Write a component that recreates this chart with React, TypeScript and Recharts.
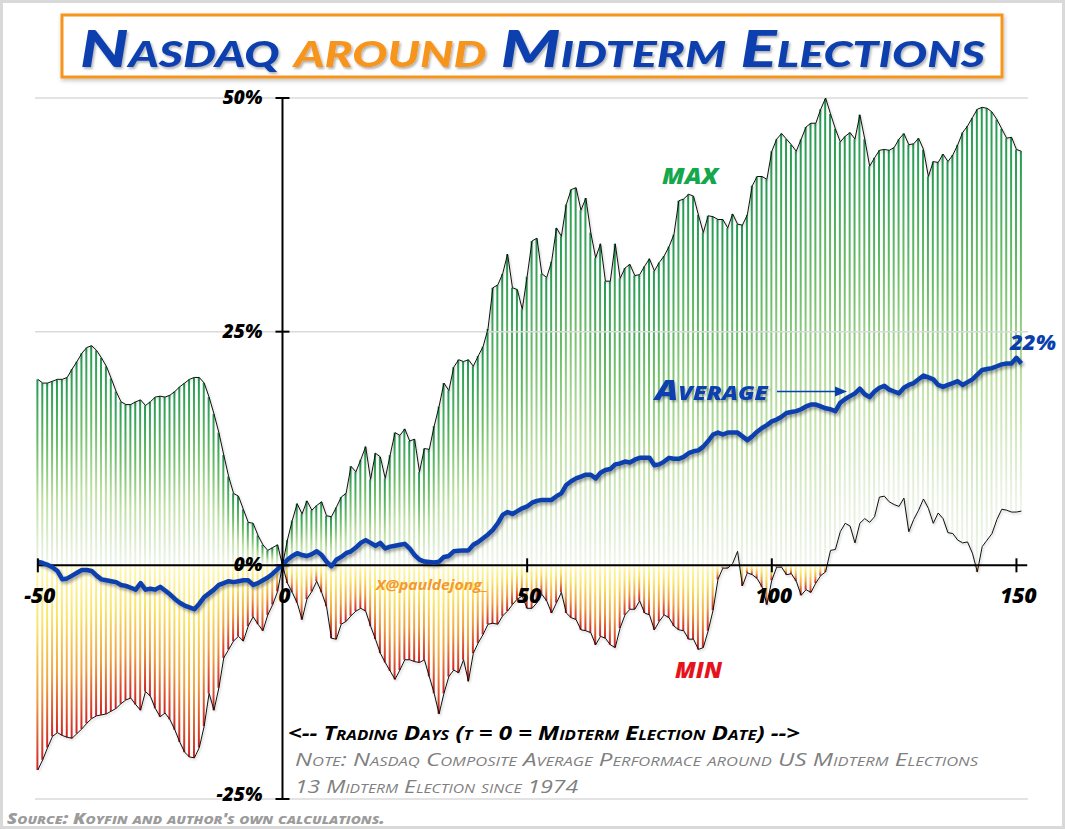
import React from 'react';
import { ComposedChart, Bar, Line, XAxis, YAxis, ReferenceLine, ReferenceDot } from 'recharts';

const W = 1065;
const H = 829;
const FIRST_DAY = -50;

// MAX performance (%) by trading day, t = -50 .. 151
const maxValues: number[] = [
  19.9, 19.5, 19.5, 19.7, 19.9, 19.9, 20.1, 21.0, 21.8, 22.7,
  23.3, 23.5, 23.0, 22.2, 21.3, 20.0, 18.6, 17.5, 17.2, 17.2,
  17.5, 17.7, 17.1, 17.5, 18.0, 18.1, 18.0, 18.2, 18.6, 19.1,
  19.5, 19.9, 20.1, 20.1, 19.5, 18.0, 16.2, 14.2, 11.8, 9.5,
  7.7, 7.4, 6.0, 4.6, 4.5, 3.2, 2.2, 1.6, 1.9, 2.2,
  0, 2.7, 4.8, 6.6, 5.5, 6.9, 5.9, 6.4, 6.8, 5.3,
  5.2, 6.2, 7.3, 7.7, 10.6, 10.0, 11.3, 12.7, 9.2, 12.0,
  11.6, 9.3, 11.8, 14.2, 13.9, 14.6, 13.3, 13.5, 10.0, 12.5,
  12.4, 14.9, 17.0, 19.5, 18.7, 21.2, 22.0, 21.8, 22.0, 21.3,
  22.4, 23.4, 25.3, 29.7, 30.0, 31.2, 33.3, 29.7, 29.5, 27.4,
  30.9, 34.7, 35.0, 31.2, 30.8, 32.5, 36.1, 35.2, 38.6, 40.2,
  40.4, 38.0, 39.3, 35.6, 32.9, 34.4, 30.4, 30.4, 34.4, 30.7,
  31.8, 32.2, 31.0, 31.1, 32.0, 32.8, 31.5, 32.4, 33.1, 34.1,
  35.4, 39.0, 39.2, 39.7, 39.5, 37.5, 35.6, 37.4, 37.3, 37.0,
  37.0, 36.1, 37.6, 36.5, 36.4, 37.5, 40.6, 41.6, 41.6, 41.3,
  44.3, 45.6, 46.2, 45.6, 45.0, 44.3, 45.6, 46.9, 47.3, 47.3,
  48.8, 50.0, 48.3, 46.7, 45.3, 45.9, 46.3, 45.6, 48.2, 45.6,
  42.7, 43.6, 44.4, 44.5, 44.4, 44.7, 45.6, 46.2, 45.0, 45.1,
  45.7, 44.5, 41.6, 43.2, 43.1, 44.0, 43.2, 43.9, 45.0, 46.3,
  47.0, 47.9, 48.8, 49.0, 48.9, 48.5, 47.7, 46.7, 45.7, 45.8,
  44.5, 44.3,
];

// MIN performance (%) by trading day
const minValues: number[] = [
  -21.9, -20.8, -19.5, -18.3, -17.9, -18.2, -18.4, -18.5, -18.0, -17.5,
  -16.9, -16.4, -16.1, -16.0, -15.9, -15.6, -15.3, -14.8, -14.4, -14.2,
  -14.9, -15.5, -13.5, -14.0, -15.3, -16.2, -15.8, -16.5, -17.6, -18.9,
  -20.0, -20.5, -20.6, -19.5, -17.2, -13.7, -15.5, -13.1, -9.9, -9.0,
  -8.1, -7.6, -8.1, -6.5, -5.5, -6.3, -7.0, -5.3, -4.2, -2.8,
  0, -1.9, -2.9, -4.0, -5.8, -3.6, -2.8, -1.7, -2.9, -4.4,
  -7.8, -7.9, -6.3, -6.0, -5.4, -4.9, -4.6, -4.9, -6.5, -7.9,
  -9.4, -10.4, -11.3, -12.2, -11.2, -10.1, -10.1, -10.3, -10.4, -10.1,
  -11.9, -13.7, -15.9, -13.7, -11.9, -11.2, -11.5, -10.1, -12.4, -9.4,
  -8.3, -7.4, -6.3, -6.2, -6.3, -5.4, -4.9, -4.2, -3.6, -3.3,
  -4.6, -4.6, -4.0, -3.1, -3.8, -5.1, -4.0, -2.9, -5.1, -5.6,
  -5.8, -6.9, -7.0, -7.2, -8.5, -7.6, -7.8, -8.5, -8.8, -6.7,
  -5.3, -4.7, -4.7, -3.8, -5.1, -5.3, -6.9, -6.0, -5.3, -5.6,
  -6.5, -6.9, -7.0, -7.9, -7.9, -9.0, -8.8, -7.0, -4.8, -1.5,
  -0.3, -0.3, 0.2, 1.5, -2.2, -0.8, -1.0, -1.4, -2.3, -4.2,
  -1.6, -0.2, -0.2, -1.0, -0.9, -1.7, -3.2, -2.6, -2.9, -1.9,
  -1.1, -0.7, 1.6, 1.7, 3.6, 4.5, 4.2, 2.4, 4.5, 5.0,
  4.6, 5.2, 7.3, 7.4, 6.8, 6.5, 6.3, 7.2, 3.6, 4.9,
  5.9, 7.1, 6.1, 4.5, 5.6, 5.0, 3.5, 3.4, 2.7, 2.4,
  2.5, 1.3, -0.7, 2.0, 2.7, 3.4, 4.9, 6.0, 5.9, 5.7,
  5.7, 5.8,
];

// AVERAGE performance (%) by trading day
const avgValues: number[] = [
  0.4, 0.25, 0.05, -0.2, -0.6, -1.5, -1.4, -1.1, -0.8, -0.5,
  -0.5, -0.6, -1.1, -1.5, -1.6, -1.7, -1.8, -2.1, -2.2, -2.4,
  -2.6, -1.9, -2.6, -2.5, -2.6, -2.3, -2.7, -3.1, -3.6, -4.0,
  -4.3, -4.5, -4.7, -4.1, -3.4, -3.0, -2.6, -2.1, -1.9, -1.7,
  -1.8, -1.7, -1.6, -1.6, -2.1, -1.9, -1.6, -1.3, -0.9, -0.4,
  0, 0.6, 1.0, 1.3, 1.1, 1.0, 1.2, 1.5, 1.1, 0.4,
  -0.1, 0.6, 0.9, 1.3, 1.5, 1.9, 2.4, 2.7, 2.4, 2.1,
  2.4, 1.8, 2.0, 2.1, 2.2, 2.3, 1.8, 1.1, 0.6, 0.4,
  0.35, 0.3, 0.4, 0.9, 1.0, 1.5, 1.55, 1.6, 1.6, 2.2,
  2.5, 2.9, 3.3, 3.8, 4.5, 5.4, 5.7, 5.5, 5.8, 6.1,
  6.3, 6.7, 6.9, 7.0, 7.0, 7.0, 7.4, 7.7, 8.6, 9.0,
  9.3, 9.5, 9.7, 9.7, 9.3, 9.9, 10.2, 10.3, 10.8, 10.9,
  11.1, 11.0, 11.3, 11.5, 11.5, 11.5, 10.7, 10.8, 11.1, 11.5,
  11.4, 11.4, 11.6, 12.0, 12.2, 12.3, 12.7, 13.3, 14.0, 14.2,
  14.0, 14.2, 14.2, 14.2, 13.8, 13.4, 13.8, 14.3, 14.7, 15.0,
  15.4, 15.6, 15.9, 16.3, 16.4, 16.5, 16.7, 17.0, 17.2, 17.2,
  17.0, 16.8, 16.7, 16.5, 17.4, 17.8, 18.1, 18.4, 18.9, 18.3,
  18.0, 18.6, 19.0, 19.2, 18.8, 18.6, 18.4, 19.0, 19.3, 19.5,
  19.9, 20.3, 20.1, 19.9, 19.3, 19.1, 19.3, 19.5, 19.7, 19.3,
  19.6, 19.9, 20.4, 20.9, 21.0, 21.1, 21.3, 21.5, 21.6, 21.6,
  22.2, 21.6,
];

const yTickValues: number[] = [50, 25, 0, -25];
const yTickLabels: string[] = ['50%', '25%', '0%', '-25%'];
const xTickValues: number[] = [-50, 0, 50, 100, 150];
const xTickLabels: string[] = ['-50', '0', '50', '100', '150'];
const gridValues: number[] = [50, 25, -25];

const BLUE = '#0b3fae';
const ORANGE = '#f7941d';
const TICK_FONT = "'Open Sans', 'DejaVu Sans', sans-serif";

const data = maxValues.map((mx, i) => {
  const mn = minValues[i];
  const base = Math.max(mn, 0);
  return {
    t: FIRST_DAY + i,
    max: mx,
    min: mn,
    avg: avgValues[i],
    base,
    up: mx - base,
    down: Math.min(mn, 0),
  };
});

const YTick = (label: string, dy: number) => (p: any) => (
  <g>
    <line x1={p.cx - 7} x2={p.cx + 7} y1={p.cy} y2={p.cy} stroke="#000" strokeWidth={2} />
    <text x={p.cx - 20} y={p.cy + dy} textAnchor="end" fontFamily={TICK_FONT} fontSize={19}
      fontWeight={800} fontStyle="italic" fill="#000">{label}</text>
  </g>
);

const XTick = (label: string) => (p: any) => (
  <g>
    <line x1={p.cx} x2={p.cx} y1={p.cy - 7} y2={p.cy + 7} stroke="#000" strokeWidth={2} />
    <text x={p.cx + 2} y={p.cy + 38} textAnchor="middle" fontFamily={TICK_FONT} fontSize={21}
      fontWeight={800} fontStyle="italic" fill="#000">{label}</text>
  </g>
);

export default function App() {
  return (
    <div style={{ position: 'absolute', left: 0, top: 0, width: W, height: H, background: '#fff',
      boxSizing: 'border-box', border: '3px solid #d9d9d9', overflow: 'hidden' }}>
      <div style={{ position: 'absolute', left: -3, top: -3 }}>
        <ComposedChart width={W} height={H} data={data} stackOffset="sign"
          margin={{ top: 98, right: 37, bottom: 30, left: 35 }}>
          <defs>
            <linearGradient id="gGreen" x1="0" y1="0" x2="0" y2="1">
              <stop offset="0" stopColor="#239a52" />
              <stop offset="0.35" stopColor="#6cbd68" />
              <stop offset="0.65" stopColor="#bfe0a4" />
              <stop offset="1" stopColor="#f0f5ec" />
            </linearGradient>
            <linearGradient id="gRed" x1="0" y1="0" x2="0" y2="1">
              <stop offset="0" stopColor="#fff8b8" />
              <stop offset="0.3" stopColor="#f8e466" />
              <stop offset="0.65" stopColor="#f0a040" />
              <stop offset="1" stopColor="#d02222" />
            </linearGradient>
            <filter id="lineShadow" filterUnits="userSpaceOnUse" x="0" y="0" width={W} height={H}>
              <feDropShadow dx="1.5" dy="2.5" stdDeviation="1.5" floodColor="#000" floodOpacity="0.35" />
            </filter>
            <filter id="thinShadow" filterUnits="userSpaceOnUse" x="0" y="0" width={W} height={H}>
              <feDropShadow dx="1" dy="1.5" stdDeviation="1" floodColor="#000" floodOpacity="0.25" />
            </filter>
          </defs>
          <XAxis type="number" dataKey="t" domain={[-50.58, 152.36]} hide allowDataOverflow />
          <YAxis type="number" domain={[-25, 50]} hide allowDataOverflow />
          {gridValues.map((v) => (
            <ReferenceLine key={'g' + v} y={v} stroke="#dadada" strokeWidth={1.5} />
          ))}
          <Bar dataKey="base" stackId="s" fill="none" barSize={2} isAnimationActive={false} />
          <Bar dataKey="up" stackId="s" fill="url(#gGreen)" barSize={2} isAnimationActive={false} />
          <Bar dataKey="down" stackId="s" fill="url(#gRed)" barSize={2} isAnimationActive={false} />
          <Line dataKey="max" type="linear" stroke="#111" strokeWidth={1} dot={false} activeDot={false}
            filter="url(#thinShadow)" isAnimationActive={false} />
          <Line dataKey="min" type="linear" stroke="#111" strokeWidth={1} dot={false} activeDot={false}
            filter="url(#thinShadow)" isAnimationActive={false} />
          <ReferenceLine x={0} stroke="#000" strokeWidth={2} />
          <ReferenceLine segment={[{ x: -50, y: 0 }, { x: 152.2, y: 0 }]} stroke="#000" strokeWidth={2} />
          <Line dataKey="avg" type="linear" stroke={BLUE} strokeWidth={4.5} dot={false} activeDot={false}
            strokeLinejoin="round" filter="url(#lineShadow)" isAnimationActive={false} />
          {yTickValues.map((v, i) => (
            <ReferenceDot key={'y' + v} x={0} y={v} r={0}
              shape={YTick(yTickLabels[i], v === -25 ? 2 : 6)} />
          ))}
          {xTickValues.map((v, i) => (
            <ReferenceDot key={'x' + v} x={v} y={0} r={0} shape={XTick(xTickLabels[i])} />
          ))}
        </ComposedChart>
      </div>
      <svg width={W} height={H} style={{ position: 'absolute', left: -3, top: -3, pointerEvents: 'none' }}>
        <defs>
          <filter id="boxShadow" x="-5%" y="-20%" width="110%" height="150%">
            <feDropShadow dx="1" dy="2" stdDeviation="2" floodColor="#000" floodOpacity="0.25" />
          </filter>
          <filter id="txtShadow" x="-5%" y="-20%" width="110%" height="150%">
            <feDropShadow dx="1.5" dy="2" stdDeviation="1.2" floodColor="#000" floodOpacity="0.3" />
          </filter>
        </defs>
        <rect x={62} y={15} width={940} height={62} fill="#fff" stroke={ORANGE} strokeWidth={3}
          filter="url(#boxShadow)" />
        <text x={80} y={67} fontFamily="Lato, 'Open Sans', sans-serif" fontSize={52} fontWeight={900}
          fontStyle="italic" style={{ fontVariant: 'small-caps' }} textLength={905}
          lengthAdjust="spacingAndGlyphs" filter="url(#txtShadow)">
          <tspan fill={BLUE}>Nasdaq </tspan>
          <tspan fill={ORANGE}>around</tspan>
          <tspan fill={BLUE}> Midterm Elections</tspan>
        </text>

        <text x={662} y={184} fontFamily={TICK_FONT} fontSize={22} fontWeight={800} fontStyle="italic"
          fill="#14a74c" textLength={56} lengthAdjust="spacingAndGlyphs">MAX</text>
        <text x={675} y={678} fontFamily={TICK_FONT} fontSize={23} fontWeight={800} fontStyle="italic"
          fill="#e5141c" textLength={47} lengthAdjust="spacingAndGlyphs">MIN</text>

        <text x={655} y={400} fontFamily={TICK_FONT} fontSize={29} fontWeight={800} fontStyle="italic"
          fill={BLUE} style={{ fontVariant: 'small-caps' }} textLength={113}
          lengthAdjust="spacingAndGlyphs" filter="url(#txtShadow)">Average</text>
        <line x1={777} y1={391.5} x2={837} y2={391.5} stroke={BLUE} strokeWidth={1.5} />
        <polygon points="847,391.5 835,386.5 835,396.5" fill={BLUE} />

        <text x={1010} y={350} fontFamily={TICK_FONT} fontSize={21} fontWeight={800} fontStyle="italic"
          fill={BLUE} textLength={46} lengthAdjust="spacingAndGlyphs">22%</text>

        <text x={376} y={590} fontFamily={TICK_FONT} fontSize={15} fontStyle="italic" fontWeight={700}
          fill="#f39a2c" textLength={112} lengthAdjust="spacingAndGlyphs">X@pauldejong_</text>

        <text x={288} y={740} fontFamily={TICK_FONT} fontSize={20} fontWeight={700} fontStyle="italic"
          fill="#000" style={{ fontVariant: 'small-caps' }} textLength={512}
          lengthAdjust="spacingAndGlyphs">{'<-- Trading Days (t = 0 = Midterm Election Date) -->'}</text>
        <text x={295} y={766} fontFamily={TICK_FONT} fontSize={19} fontWeight={400} fontStyle="italic"
          fill="#7f7f7f" style={{ fontVariant: 'small-caps' }} textLength={683}
          lengthAdjust="spacingAndGlyphs">Note: Nasdaq Composite Average Performace around US Midterm Elections</text>
        <text x={295} y={793} fontFamily={TICK_FONT} fontSize={19} fontWeight={400} fontStyle="italic"
          fill="#7f7f7f" style={{ fontVariant: 'small-caps' }} textLength={283}
          lengthAdjust="spacingAndGlyphs">13 Midterm Election since 1974</text>
        <text x={7} y={824} fontFamily={TICK_FONT} fontSize={15} fontWeight={800} fontStyle="italic"
          fill="#9b9b9b" style={{ fontVariant: 'small-caps' }} textLength={378}
          lengthAdjust="spacingAndGlyphs">{"Source: Koyfin and author's own calculations."}</text>
      </svg>
    </div>
  );
}
